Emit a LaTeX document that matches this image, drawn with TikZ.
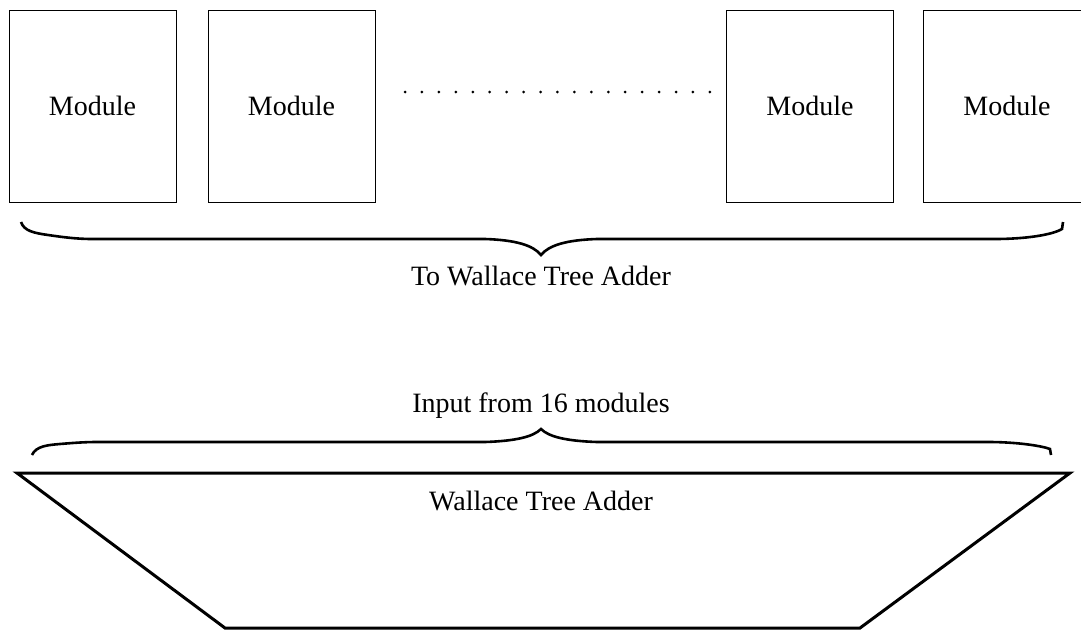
\documentclass[tikz,border=0pt]{standalone}
\usepackage{fontspec}
\setmainfont{Liberation Serif}
\usetikzlibrary{positioning}

\tikzset{
  module/.style={draw, line width=1pt, minimum width=167pt, minimum height=192pt, inner sep=0pt},
  brace/.style={line width=2.6pt},
  label/.style={inner sep=0pt}
}

\begin{document}
\begin{tikzpicture}
                    [x=1pt,y=-1pt,font=\fontsize{28}{32}\selectfont,node distance=30pt]

                    \clip (0,0) rectangle (1081,629);
                    \useasboundingbox (0,0) rectangle (1081,629);

                    % Modules
                    \node[module] (mod1) at (92.5,106) {Module};
                    \node[module, right=31pt of mod1] (mod2) {Module};
                    \node[module] (mod3) at (810,106) {Module};
                    \node[module, right=29pt of mod3] (mod4) {Module};

                    % Dots
                    \foreach \i in {0,...,18} \fill (405+16.94*\i,92) circle (1.5pt);

                    % Upper brace
                    \draw[brace] (21,222) .. controls (24,231) and (34,233) .. (48,235) .. controls (62,237) and (76,239) .. (92,239)
                        -- (485,239) .. controls (515,240) and (533,245) .. (541,255)
                        .. controls (549,245) and (567,240) .. (597,239) -- (995,239)
                        .. controls (1025,239) and (1052,235) .. (1062,229) -- (1063,222);
                    \node[label] (toadder) at (541,276) {To Wallace Tree Adder};

                    % Lower brace
                    \node[label] (input) at (541,406) {Input from 16 modules};
                    \draw[brace] (32,455) .. controls (36,446) and (48,445) .. (60,444) .. controls (72,443) and (84,442) .. (97,442)
                        -- (485,442) .. controls (515,441) and (533,437) .. (541,429)
                        .. controls (549,437) and (567,441) .. (597,442) -- (988,442)
                        .. controls (1018,442) and (1042,446) .. (1050,449) -- (1051,455);

                    % Adder
                    \draw[line width=3pt, line join=miter] (17,473) -- (1070,473) -- (860,628) -- (225,628) -- cycle;
                    \node[label] (adder) at (541,501) {Wallace Tree Adder};
                \end{tikzpicture}
\end{document}
